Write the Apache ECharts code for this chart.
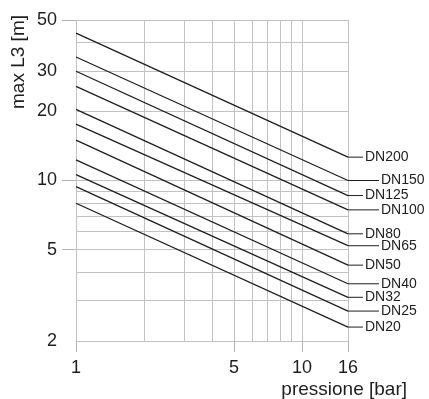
<!DOCTYPE html>
<html>
<head>
<meta charset="utf-8">
<script src="https://cdn.jsdelivr.net/npm/echarts@6/dist/echarts.min.js"></script>
<style>
  html, body { margin: 0; padding: 0; background: #fff; }
  #chart { width: 429px; height: 399px; }
</style>
</head>
<body>
<div id="chart"></div>
<script>
// pipe sizes, top line first
const dnNames = ['DN200', 'DN150', 'DN125', 'DN100', 'DN80', 'DN65', 'DN50', 'DN40', 'DN32', 'DN25', 'DN20'];
// max L3 [m] read at 1 bar and at 16 bar
const lengthAt1 = [43.8, 34.5, 29.9, 25.7, 20.4, 17.6, 15.0, 12.3, 10.6, 9.4, 7.96];
const lengthAt16 = [12.64, 10.0, 8.6, 7.45, 5.86, 5.2, 4.28, 3.55, 3.1, 2.7, 2.3];
const pressureRange = [1, 16];

const xLabelValues = [1, 5, 10, 16];
const xGridValues = [1, 2, 3, 4, 5, 6, 7, 8, 9, 10, 16];
const yLabelValues = [2, 5, 10, 20, 30, 50];
const yTickValues = [5, 10, 50];
const yGridValues = [2, 3, 4, 5, 6, 7, 8, 9, 10, 20, 30, 40, 50];

const FONT = 'Liberation Sans, Arial, Helvetica, sans-serif';
const INK = '#1e1e1e';
const GRID = '#c2c2c2';
const TICK = '#b4b4b4';

const chart = echarts.init(document.getElementById('chart'));

const series = dnNames.map((name, i) => ({
  name,
  type: 'line',
  xAxisIndex: 0,
  yAxisIndex: 0,
  symbol: 'none',
  data: [[pressureRange[0], lengthAt1[i]], [pressureRange[1], lengthAt16[i]]],
  lineStyle: { color: INK, width: 1.3 },
  endLabel: {
    show: true,
    distance: 0,
    // short / long leader alternate so the labels don't collide
    formatter: () => `{${i % 2 ? 'longLead' : 'lead'}| }{t|${name}}`,
    rich: {
      lead: { width: 15, height: 1, fontSize: 1, backgroundColor: INK },
      longLead: { width: 31, height: 1, fontSize: 1, backgroundColor: INK },
      t: { fontSize: 14, fontFamily: FONT, color: INK, padding: [0, 0, 0, 2] }
    }
  }
}));

const option = {
  animation: false,
  grid: { left: 76, right: 81, top: 20, bottom: 56 },
  xAxis: [
    {
      type: 'log',
      min: 1,
      max: 16,
      name: 'pressione [bar]',
      nameLocation: 'end',
      nameGap: 59,
      nameTextStyle: {
        fontSize: 19, fontFamily: FONT, color: INK,
        align: 'right', verticalAlign: 'top', padding: [39, 0, 0, 0]
      },
      // axis line must be on for ticks to render; keep it invisible
      axisLine: { show: true, lineStyle: { color: 'rgba(0,0,0,0)' } },
      axisTick: { show: true, customValues: xLabelValues, length: 11, lineStyle: { color: TICK, width: 1 } },
      axisLabel: { customValues: xLabelValues, fontSize: 18, fontFamily: FONT, color: INK, margin: 18 },
      splitLine: { show: false }
    },
    {
      type: 'log',
      min: 1,
      max: 16,
      position: 'bottom',
      axisLine: { show: false },
      axisTick: { show: false, customValues: xGridValues },
      axisLabel: { show: false },
      splitLine: { show: true, lineStyle: { color: GRID, width: 1 } }
    }
  ],
  yAxis: [
    {
      type: 'log',
      min: 2,
      max: 50,
      axisLine: { show: true, lineStyle: { color: 'rgba(0,0,0,0)' } },
      axisTick: { show: true, customValues: yTickValues, length: 14, lineStyle: { color: TICK, width: 1 } },
      axisLabel: { customValues: yLabelValues, fontSize: 18, fontFamily: FONT, color: INK, margin: 19 },
      splitLine: { show: false }
    },
    {
      type: 'log',
      min: 2,
      max: 50,
      position: 'left',
      axisLine: { show: false },
      axisTick: { show: false, customValues: yGridValues },
      axisLabel: { show: false },
      splitLine: { show: true, lineStyle: { color: GRID, width: 1 } }
    }
  ],
  graphic: [
    {
      type: 'text',
      x: 19,
      y: 62,
      rotation: Math.PI / 2,
      style: {
        text: 'max L3 [m]',
        fontSize: 19,
        fontFamily: FONT,
        fill: INK,
        align: 'center',
        verticalAlign: 'middle'
      }
    }
  ],
  series
};

chart.setOption(option);
window.addEventListener('resize', () => chart.resize());
</script>
</body>
</html>
